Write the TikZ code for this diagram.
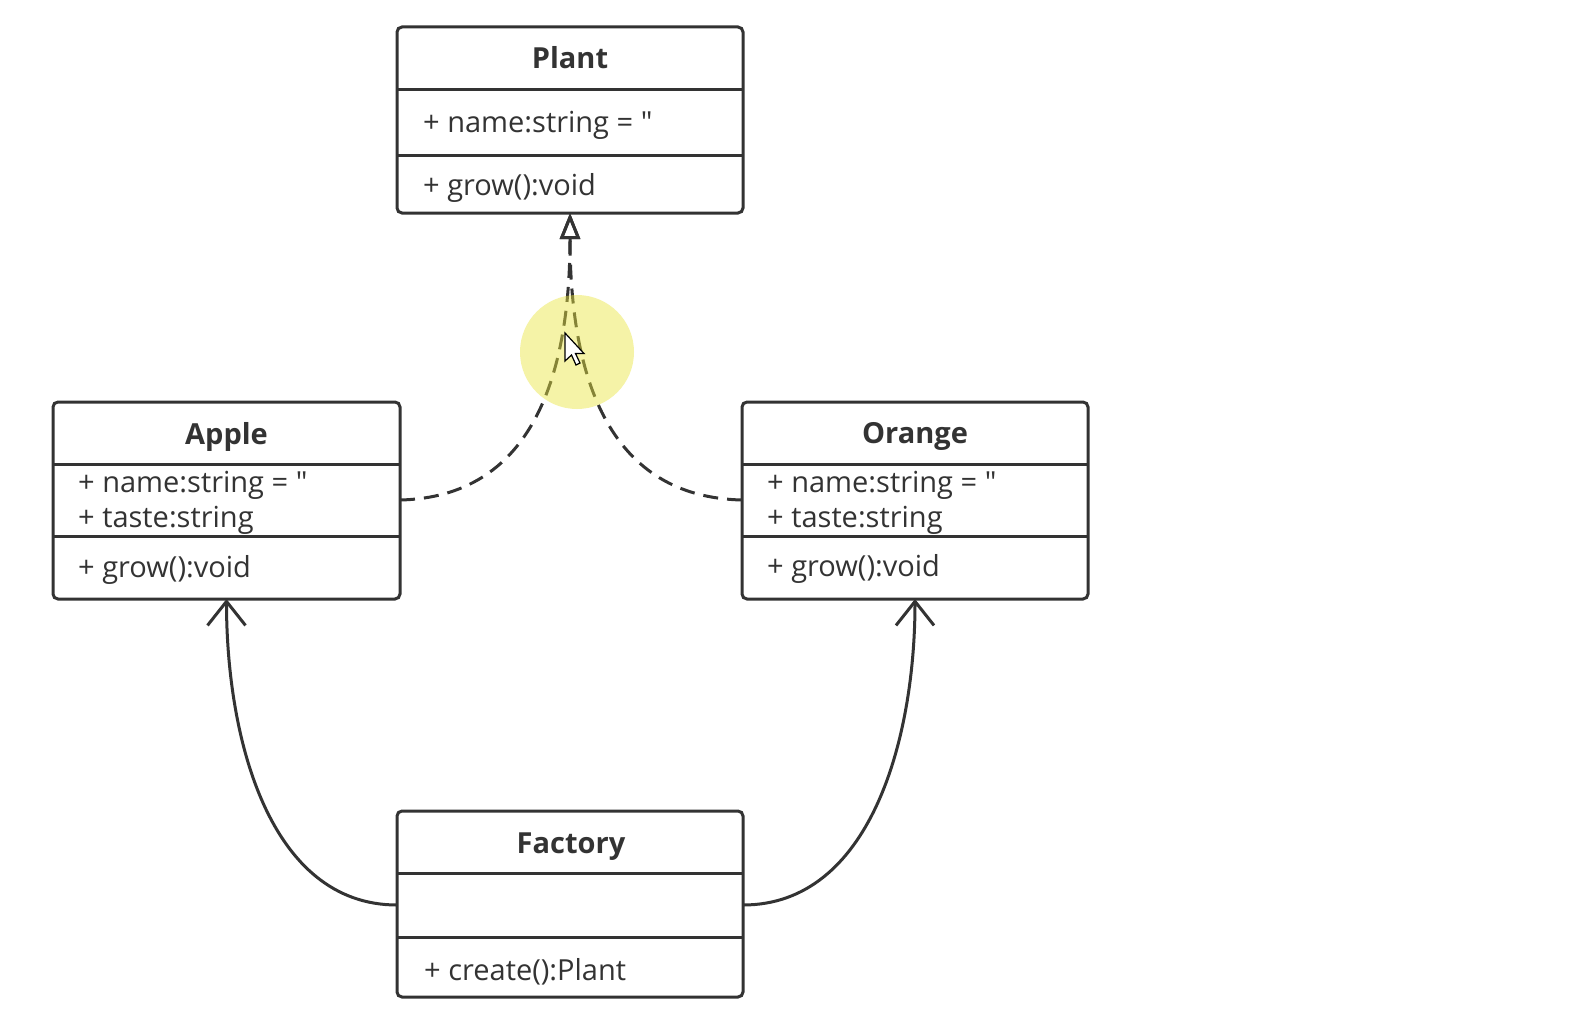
\documentclass[tikz,border=0pt]{standalone}
\usepackage{fontspec}
\setmainfont{Open Sans}[Ligatures=TeXOff]
\usetikzlibrary{arrows.meta}
\definecolor{ink}{HTML}{333333}
\definecolor{hl}{RGB}{235,230,60}
\begin{document}
\begin{tikzpicture}[x=1pt,y=-1pt,
  classbox/.style={draw=ink,line width=3pt,rounded corners=5pt,inner sep=0pt,outer sep=0pt},
  comp/.style={inner sep=0pt,outer sep=0pt},
  sep/.style={draw=ink,line width=3pt},
  title/.style={font=\fontsize{29}{34}\selectfont\bfseries,text=ink,anchor=base,inner sep=0pt},
  member/.style={font=\fontsize{29}{34}\selectfont,text=ink,anchor=base west,inner sep=0pt},
  realize/.style={draw=ink,line width=3pt,dash pattern=on 15pt off 9pt,
    -{Triangle[open,length=26pt,width=20pt,line width=3pt]}},
  assoc/.style={draw=ink,line width=3pt,
    -{Straight Barb[length=24pt,width=38pt,line width=3pt]}}]
\useasboundingbox (0,0) rectangle (1586,1014);
\fill[white] (0,0) rectangle (1586,1014);

% ---------- Plant ----------
\node[classbox,minimum width=346pt,minimum height=186pt] (plant) at (570,120) {};
\node[comp,minimum width=346pt,minimum height=63pt] (plant-head) at (570,58.5) {};
\node[comp,minimum width=346pt,minimum height=65pt] (plant-attr) at (570,122.5) {};
\node[comp,minimum width=346pt,minimum height=58pt] (plant-op) at (570,184) {};
\draw[sep] (plant-head.south west) -- (plant-head.south east);
\draw[sep] (plant-attr.south west) -- (plant-attr.south east);
\node[title] (plant-t) at (570,69) {Plant};
\node[member] (plant-a1) at (423,132) {+ name:string = "};
\node[member] (plant-o1) at (423,195) {+ grow():void};

% ---------- Apple ----------
\node[classbox,minimum width=347pt,minimum height=197pt] (apple) at (226.5,500.5) {};
\node[comp,minimum width=347pt,minimum height=62pt] (apple-head) at (226.5,433) {};
\node[comp,minimum width=347pt,minimum height=72pt] (apple-attr) at (226.5,500) {};
\node[comp,minimum width=347pt,minimum height=63pt] (apple-op) at (226.5,567.5) {};
\draw[sep] (apple-head.south west) -- (apple-head.south east);
\draw[sep] (apple-attr.south west) -- (apple-attr.south east);
\node[title] (apple-t) at (226.5,444) {Apple};
\node[member] (apple-a1) at (78,492) {+ name:string = "};
\node[member] (apple-a2) at (78,527) {+ taste:string};
\node[member] (apple-o1) at (78,577) {+ grow():void};

% ---------- Orange ----------
\node[classbox,minimum width=346pt,minimum height=197pt] (orange) at (915,500.5) {};
\node[comp,minimum width=346pt,minimum height=62pt] (orange-head) at (915,433) {};
\node[comp,minimum width=346pt,minimum height=72pt] (orange-attr) at (915,500) {};
\node[comp,minimum width=346pt,minimum height=63pt] (orange-op) at (915,567.5) {};
\draw[sep] (orange-head.south west) -- (orange-head.south east);
\draw[sep] (orange-attr.south west) -- (orange-attr.south east);
\node[title] (orange-t) at (915,443) {Orange};
\node[member] (orange-a1) at (767,492) {+ name:string = "};
\node[member] (orange-a2) at (767,527) {+ taste:string};
\node[member] (orange-o1) at (767,576) {+ grow():void};

% ---------- Factory ----------
\node[classbox,minimum width=346pt,minimum height=186pt] (factory) at (570,904) {};
\node[comp,minimum width=346pt,minimum height=62pt] (factory-head) at (570,842) {};
\node[comp,minimum width=346pt,minimum height=64pt] (factory-attr) at (570,905) {};
\node[comp,minimum width=346pt,minimum height=60pt] (factory-op) at (570,967) {};
\draw[sep] (factory-head.south west) -- (factory-head.south east);
\draw[sep] (factory-attr.south west) -- (factory-attr.south east);
\node[title] (factory-t) at (571,853) {Factory};
\node[member] (factory-o1) at (424,980) {+ create():Plant};

% ---------- connectors ----------
\draw[realize] (apple-attr.east) .. controls (530,497) and (570,380) .. (plant.south);
\draw[realize] (orange-attr.west) .. controls (610,497) and (570,380) .. (plant.south);
\draw[assoc] (factory-attr.west) .. controls (270,905) and (226.5,740) .. (apple.south);
\draw[assoc] (factory-attr.east) .. controls (870,905) and (915,740) .. (orange.south);

% ---------- pointer highlight ----------
\fill[hl,fill opacity=0.45] (577,352) circle (57pt);
\draw[fill=white,line width=1.2pt,shift={(565,333)}]
  (0,0) -- (0,28) -- (6.5,22) -- (11,32) -- (15,30) -- (10.5,20.5) -- (19,20.5) -- cycle;
\end{tikzpicture}
\end{document}
